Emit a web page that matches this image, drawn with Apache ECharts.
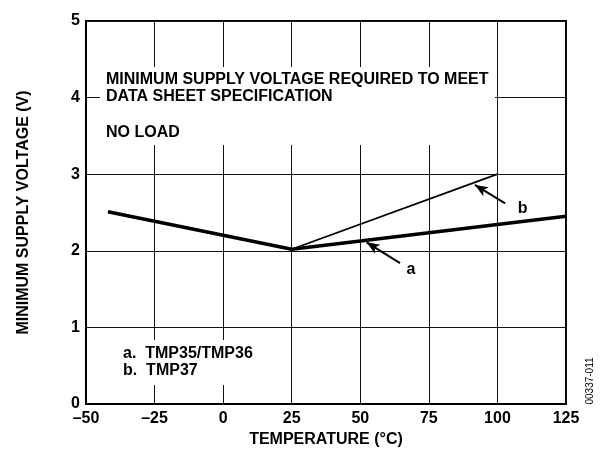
<!DOCTYPE html>
<html>
<head>
<meta charset="utf-8">
<style>
  html, body { margin: 0; padding: 0; background: #fff; }
  #chart { width: 604px; height: 453px; }
</style>
<script src="https://cdn.jsdelivr.net/npm/echarts@6/dist/echarts.min.js"></script>
</head>
<body>
<div id="chart"></div>
<script>
// Temperature axis ticks (°C) and supply voltage ticks (V)
var tempTicks = [-50, -25, 0, 25, 50, 75, 100, 125];
var voltTicks = [0, 1, 2, 3, 4, 5];

// Curve a: TMP35/TMP36
var tempA = [-42, 25, 125];
var voltA = [2.51, 2.02, 2.45];

// Curve b: TMP37
var tempB = [25, 100];
var voltB = [2.02, 3.0];

// Callout arrows: [tail, tip] in data units
var arrowA = [[64.5, 1.84], [52.3, 2.11]];
var arrowB = [[102.8, 2.62], [91.8, 2.86]];
var labelA = [68.5, 1.76];
var labelB = [109.2, 2.555];

var FONT = '"Liberation Sans", Arial, Helvetica, sans-serif';
var INK = '#000';

function pairs(xs, ys) {
  return xs.map(function (x, i) { return [x, ys[i]]; });
}

var chart = echarts.init(document.getElementById('chart'), null, { renderer: 'canvas' });

chart.setOption({
  animation: false,
  backgroundColor: '#fff',
  grid: {
    left: 86, right: 38, top: 21, bottom: 49,
    show: true,
    borderColor: INK,
    borderWidth: 2,
    backgroundColor: 'transparent'
  },
  xAxis: {
    type: 'value',
    min: tempTicks[0],
    max: tempTicks[tempTicks.length - 1],
    interval: 25,
    name: 'TEMPERATURE (°C)',
    nameLocation: 'middle',
    nameGap: 27,
    nameTextStyle: { color: INK, fontFamily: FONT, fontWeight: 'bold', fontSize: 16 },
    axisLine: { show: true, onZero: false, lineStyle: { color: INK, width: 2 } },
    axisTick: { show: false },
    splitLine: { show: true, lineStyle: { color: '#111', width: 1 } },
    axisLabel: {
      color: INK, fontFamily: FONT, fontWeight: 'bold', fontSize: 16, margin: 7,
      formatter: function (v) { return v < 0 ? '\u2013' + Math.abs(v) : String(v); }
    }
  },
  yAxis: {
    type: 'value',
    min: voltTicks[0],
    max: voltTicks[voltTicks.length - 1],
    interval: 1,
    name: 'MINIMUM SUPPLY VOLTAGE (V)',
    nameLocation: 'middle',
    nameGap: 54,
    nameTextStyle: { color: INK, fontFamily: FONT, fontWeight: 'bold', fontSize: 16 },
    axisLine: { show: true, onZero: false, lineStyle: { color: INK, width: 2 } },
    axisTick: { show: false },
    splitLine: { show: true, lineStyle: { color: '#111', width: 1 } },
    axisLabel: { color: INK, fontFamily: FONT, fontWeight: 'bold', fontSize: 16, margin: 6 }
  },
  graphic: [
    // white panels that sit over the grid behind the annotation text
    { type: 'rect', z: 3, shape: { x: 100, y: 67, width: 395, height: 78 }, style: { fill: '#fff' } },
    { type: 'rect', z: 3, shape: { x: 116, y: 340, width: 156, height: 45 }, style: { fill: '#fff' } },
    {
      type: 'text', z: 4, left: 106, top: 71,
      style: {
        text: 'MINIMUM SUPPLY VOLTAGE REQUIRED TO MEET\nDATA SHEET SPECIFICATION',
        font: 'bold 16px ' + FONT, fill: INK, lineHeight: 17
      }
    },
    {
      type: 'text', z: 4, left: 106, top: 125,
      style: { text: 'NO LOAD', font: 'bold 16px ' + FONT, fill: INK }
    },
    {
      type: 'text', z: 4, left: 123, top: 345,
      style: {
        text: 'a.  TMP35/TMP36\nb.  TMP37',
        font: 'bold 16px ' + FONT, fill: INK, lineHeight: 17
      }
    },
    {
      type: 'text', z: 4, x: 590, y: 381, rotation: Math.PI / 2,
      style: {
        text: '00337-011', font: '10px ' + FONT, fill: INK,
        align: 'center', verticalAlign: 'middle'
      }
    }
  ],
  series: [
    {
      name: 'a', type: 'line', z: 6,
      data: pairs(tempA, voltA),
      symbol: 'none',
      lineStyle: { color: INK, width: 3.6 },
      markLine: {
        silent: true,
        symbol: ['none', 'arrow'],
        symbolSize: [8, 13],
        label: { show: false },
        lineStyle: { color: INK, width: 2, type: 'solid' },
        data: [[{ coord: arrowA[0] }, { coord: arrowA[1] }]]
      },
      markPoint: {
        silent: true,
        symbol: 'circle', symbolSize: 0,
        label: {
          show: true, position: 'inside', color: INK,
          fontFamily: FONT, fontWeight: 'bold', fontSize: 16,
          formatter: function (p) { return p.name; }
        },
        data: [{ name: 'a', coord: labelA }]
      }
    },
    {
      name: 'b', type: 'line', z: 5,
      data: pairs(tempB, voltB),
      symbol: 'none',
      lineStyle: { color: INK, width: 1.8 },
      markLine: {
        silent: true,
        symbol: ['none', 'arrow'],
        symbolSize: [8, 13],
        label: { show: false },
        lineStyle: { color: INK, width: 2, type: 'solid' },
        data: [[{ coord: arrowB[0] }, { coord: arrowB[1] }]]
      },
      markPoint: {
        silent: true,
        symbol: 'circle', symbolSize: 0,
        label: {
          show: true, position: 'inside', color: INK,
          fontFamily: FONT, fontWeight: 'bold', fontSize: 16,
          formatter: function (p) { return p.name; }
        },
        data: [{ name: 'b', coord: labelB }]
      }
    }
  ]
});
</script>
</body>
</html>
